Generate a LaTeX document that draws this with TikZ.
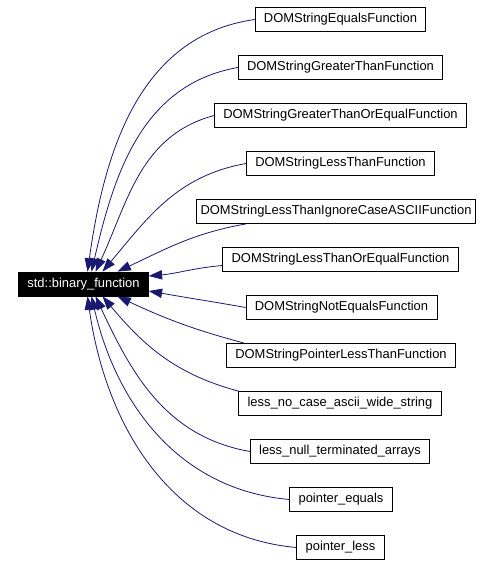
\documentclass[tikz,border=0pt]{standalone}
\usepackage{fontspec}
\setmainfont{Liberation Sans}
\usetikzlibrary{
  arrows.meta,
  calc
}
\definecolor{midnight}{HTML}{191970}

\begin{document}
\begin{tikzpicture}[x=0.75pt,y=0.75pt,
    cls/.style={draw,line width=0.6pt,minimum height=18pt,inner xsep=6.6pt,
      inner ysep=0pt,font=\fontsize{9.7}{11}\selectfont},
    base/.style={cls,fill=black,text=white},
    inh/.style={draw=midnight,line width=0.6pt,
      -{Triangle[length=10pt,width=7pt]}}]
  \useasboundingbox (0,0) rectangle (502,566);

  % base class
  \node[base] (bin) at (83.5,282) {std::binary\_function};

  % derived classes
  \node[cls] (eq)     at (340.5,546.5) {DOMStringEqualsFunction};
  \node[cls] (gt)     at (340.5,498.5) {DOMStringGreaterThanFunction};
  \node[cls] (gteq)   at (340.5,450.5) {DOMStringGreaterThanOrEqualFunction};
  \node[cls] (lt)     at (340.5,402.5) {DOMStringLessThanFunction};
  \node[cls,inner xsep=3pt] (ltic) at (336,354.5) {DOMStringLessThanIgnoreCaseASCIIFunction};
  \node[cls] (lteq)   at (340.5,306.5) {DOMStringLessThanOrEqualFunction};
  \node[cls] (neq)    at (341.5,258.5) {DOMStringNotEqualsFunction};
  \node[cls] (ptrlt)  at (341,210.5)   {DOMStringPointerLessThanFunction};
  \node[cls] (nocase) at (340,162.5)   {less\_no\_case\_ascii\_wide\_string};
  \node[cls] (nullt)  at (340,114.5)   {less\_null\_terminated\_arrays};
  \node[cls] (ptreq)  at (341,66.5)    {pointer\_equals};
  \node[cls] (ptrls)  at (340.5,18.5)  {pointer\_less};

  % inheritance edges
  \draw[inh] (eq.west)    to[out=188,in=82] ($(bin.north)+(4,0)$);
  \draw[inh] (gt.west)    to[out=190,in=77] ($(bin.north)+(8,0)$);
  \draw[inh] (gteq.west)  to[out=195,in=65] ($(bin.north)+(12,0)$);
  \draw[inh] (lt.west)    to[out=190,in=50] ($(bin.north)+(19,0)$);
  \draw[inh] ($(ltic.south west)+(50,0)$) to[out=190,in=25] ($(bin.north)+(34,0)$);
  \draw[inh] ($(lteq.west)+(0,-6)$) to[out=185,in=5] ($(bin.east)+(0,8)$);
  \draw[inh] (neq.west)   to[out=170,in=-10] ($(bin.east)+(0,-7)$);
  \draw[inh] ($(ptrlt.north west)+(18,0)$) to[out=165,in=-25] ($(bin.south)+(34,0)$);
  \draw[inh] (nocase.north west) to[out=165,in=-50] ($(bin.south)+(19,0)$);
  \draw[inh] (nullt.west) to[out=170,in=-65] ($(bin.south)+(12,0)$);
  \draw[inh] (ptreq.west) to[out=175,in=-77] ($(bin.south)+(8,0)$);
  \draw[inh] (ptrls.west) to[out=175,in=-82] ($(bin.south)+(4,0)$);
\end{tikzpicture}
\end{document}
